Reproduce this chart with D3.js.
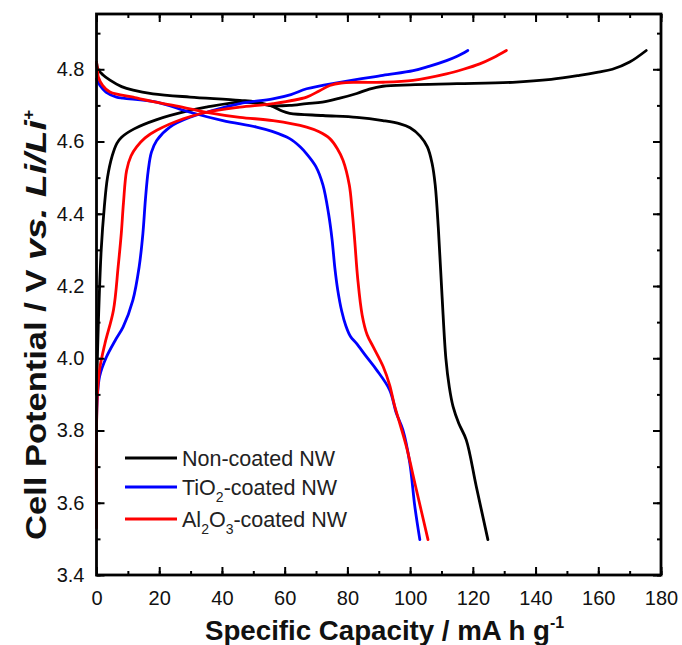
<!DOCTYPE html>
<html><head><meta charset="utf-8">
<script src="https://cdn.jsdelivr.net/npm/d3@7"></script>
<style>body{margin:0;background:#fff}svg{display:block;font-family:"Liberation Sans",Arial,sans-serif}</style>
</head><body>
<svg id="c" width="682" height="645"></svg>
<script>
const xTicks = [0,20,40,60,80,100,120,140,160,180];
const yTicks = [3.4,3.6,3.8,4.0,4.2,4.4,4.6,4.8];
const seriesNames = ["Non-coated NW","TiO2-coated NW","Al2O3-coated NW"];
const seriesColors = ["#000000","#0000ff","#ff0000"];

const blackCharge = [[0,3.9],[0.6,4.1],[1.5,4.3],[2.5,4.42],[3.5,4.5],[5,4.56],[6.5,4.595],[8,4.612],[12,4.635],[19,4.66],[29.8,4.686],[35,4.695],[45.7,4.709],[51,4.706],[56,4.699],[61.6,4.70],[67,4.705],[72,4.709],[77.6,4.72],[83,4.733],[87,4.745],[91.3,4.753],[100,4.757],[115,4.76],[132.7,4.764],[145,4.772],[154,4.783],[160,4.792],[164.5,4.80],[170,4.82],[175.3,4.852]];
const blackDischarge = [[0,4.82],[0.5,4.8],[2,4.785],[4.3,4.77],[8,4.752],[11.7,4.742],[18,4.732],[29.8,4.723],[45.7,4.714],[52,4.708],[56.2,4.697],[59,4.685],[61.6,4.678],[72.2,4.672],[83,4.667],[91.3,4.658],[96.8,4.649],[100,4.638],[103.2,4.615],[105.5,4.585],[107,4.54],[108,4.48],[109,4.36],[110.2,4.17],[111.4,4.0],[112.5,3.92],[113.7,3.866],[115.5,3.82],[117.9,3.774],[121.1,3.645],[124.8,3.498]];
const blueCharge = [[0,3.78],[0.2,3.88],[1,3.95],[3.2,4.004],[6,4.05],[8.5,4.087],[11.6,4.161],[13.6,4.253],[14.8,4.346],[15.6,4.44],[16.5,4.52],[17.5,4.57],[19.2,4.603],[23.4,4.64],[29.8,4.667],[35.1,4.681],[45.7,4.705],[56.2,4.718],[62,4.73],[67,4.746],[77.6,4.764],[91.3,4.783],[101,4.796],[106,4.808],[111.6,4.824],[115,4.836],[118.4,4.852]];
const blueDischarge = [[0,4.773],[1.1,4.755],[3,4.737],[6.4,4.723],[8.5,4.72],[19.2,4.709],[29.8,4.681],[40.3,4.658],[51,4.64],[56,4.628],[61.6,4.608],[65,4.585],[67,4.566],[70,4.53],[72.2,4.48],[74,4.40],[75.1,4.33],[76,4.25],[76.9,4.19],[78.2,4.13],[79.5,4.09],[81,4.06],[82.9,4.041],[86,4.005],[89.3,3.968],[93.5,3.912],[95.6,3.848],[97.7,3.802],[99.9,3.71],[101.5,3.59],[103.1,3.498]];
const redCharge = [[0,3.53],[0,3.8],[0.3,3.9],[1,3.97],[2.7,4.041],[5.4,4.133],[6.9,4.253],[7.9,4.345],[8.6,4.43],[9.6,4.52],[11,4.56],[12.8,4.585],[15.5,4.61],[19.2,4.631],[27.7,4.663],[35.1,4.681],[45.7,4.695],[56.3,4.705],[67,4.723],[71,4.74],[74.4,4.755],[78,4.762],[82.9,4.764],[91.4,4.764],[100.9,4.769],[111.6,4.787],[117,4.8],[122.2,4.815],[126.5,4.832],[130.7,4.852]];
const redDischarge = [[0,4.82],[0.3,4.8],[0.6,4.778],[2,4.755],[4.3,4.737],[11.7,4.723],[13.9,4.718],[24.5,4.70],[35.1,4.681],[45.7,4.667],[56.3,4.658],[67,4.64],[71,4.627],[74.4,4.608],[76.8,4.58],[78.6,4.548],[80.6,4.48],[81.5,4.41],[82.3,4.33],[83.3,4.22],[84.7,4.12],[86.3,4.065],[88.2,4.032],[91.4,3.977],[93.5,3.925],[95,3.87],[96.7,3.82],[98.8,3.756],[102,3.636],[105.7,3.498]];

const curves = [
  {s:0,d:blackCharge},{s:0,d:blackDischarge},
  {s:1,d:blueCharge},{s:1,d:blueDischarge},
  {s:2,d:redCharge},{s:2,d:redDischarge}
];

const svg = d3.select("#c");
const L=96.5, R=661, T=14, B=575;
const x = d3.scaleLinear().domain([0,180]).range([L,R]);
const y = d3.scaleLinear().domain([3.4,4.953]).range([B,T]);

const line = d3.line().x(d=>x(d[0])).y(d=>y(d[1])).curve(d3.curveCatmullRom.alpha(0.5));
svg.append("g").selectAll("path").data(curves).join("path")
  .attr("d",d=>line(d.d)).attr("fill","none")
  .attr("stroke",d=>seriesColors[d.s]).attr("stroke-width",2.8)
  .attr("stroke-linejoin","round").attr("stroke-linecap","round");

const xMinor = d3.range(0,181,10), yMinor = d3.range(34,50,1).map(v=>v/10);
function axisTicks(axisGen, tr){
  const g = svg.append("g").attr("transform",tr).call(axisGen);
  g.select(".domain").remove();
  g.selectAll("line").attr("stroke","#000").attr("stroke-width",2);
  return g;
}
axisTicks(d3.axisBottom(x).tickValues(xMinor).tickSize(-4).tickFormat(""),`translate(0,${B})`);
const gxb = axisTicks(d3.axisBottom(x).tickValues(xTicks).tickSize(-8).tickPadding(16).tickFormat(d3.format("d")),`translate(0,${B})`);
gxb.selectAll("text").attr("font-size",20).attr("fill","#111").attr("font-family","Liberation Sans, Arial");
axisTicks(d3.axisTop(x).tickValues(xMinor).tickSize(-4).tickFormat(""),`translate(0,${T})`);
axisTicks(d3.axisTop(x).tickValues(xTicks).tickSize(-8).tickFormat(""),`translate(0,${T})`);
axisTicks(d3.axisLeft(y).tickValues(yMinor).tickSize(-4).tickFormat(""),`translate(${L},0)`);
const gyl = axisTicks(d3.axisLeft(y).tickValues(yTicks).tickSize(-8).tickPadding(12).tickFormat(d3.format(".1f")),`translate(${L},0)`);
gyl.selectAll("text").attr("font-size",20).attr("fill","#111").attr("font-family","Liberation Sans, Arial");
axisTicks(d3.axisRight(y).tickValues(yMinor).tickSize(-4).tickFormat(""),`translate(${R},0)`);
axisTicks(d3.axisRight(y).tickValues(yTicks).tickSize(-8).tickFormat(""),`translate(${R},0)`);

svg.append("rect").attr("x",L).attr("y",T).attr("width",R-L).attr("height",B-T)
  .attr("fill","none").attr("stroke","#000").attr("stroke-width",2.8);

// x title
const xt = svg.append("text").attr("x",205).attr("y",640)
  .attr("font-size",27).attr("font-weight","bold").attr("fill","#111");
xt.append("tspan").attr("textLength",345).attr("lengthAdjust","spacingAndGlyphs").text("Specific Capacity / mA h g");
xt.append("tspan").attr("dy",-12).attr("font-size",16).text("-1");

// y title
const yt = svg.append("text").attr("transform",`translate(46,540) rotate(-90)`)
  .attr("font-size",29).attr("font-weight","bold").attr("fill","#111");
yt.append("tspan").attr("textLength",280).attr("lengthAdjust","spacingAndGlyphs").text("Cell Potential / V ");
yt.append("tspan").attr("font-style","italic").attr("textLength",140).attr("lengthAdjust","spacingAndGlyphs").text("vs. Li/Li");
yt.append("tspan").attr("font-style","italic").attr("dy",-12).attr("font-size",17).text("+");

// legend
const lg = svg.append("g");
const rows = [458,487,519];
seriesNames.forEach((n,i)=>{
  lg.append("line").attr("x1",125).attr("x2",177).attr("y1",rows[i]).attr("y2",rows[i])
    .attr("stroke",seriesColors[i]).attr("stroke-width",2.8);
  const t = lg.append("text").attr("x",182).attr("y",rows[i]+7.5).attr("font-size",21.5).attr("fill","#222");
  if(i===0){ t.text(n); }
  else if(i===1){ t.append("tspan").text("TiO"); t.append("tspan").attr("dy",7).attr("font-size",14).text("2"); t.append("tspan").attr("dy",-7).text("-coated NW"); }
  else { t.append("tspan").text("Al"); t.append("tspan").attr("dy",7).attr("font-size",14).text("2"); t.append("tspan").attr("dy",-7).text("O"); t.append("tspan").attr("dy",7).attr("font-size",14).text("3"); t.append("tspan").attr("dy",-7).text("-coated NW"); }
});
</script>
</body></html>
